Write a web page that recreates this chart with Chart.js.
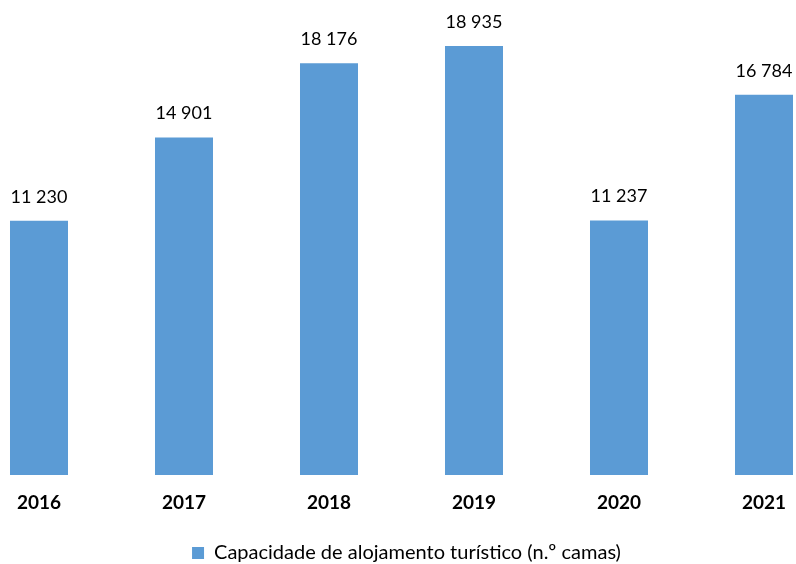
<!DOCTYPE html>
<html>
<head>
<meta charset="utf-8">
<script src="https://cdn.jsdelivr.net/npm/chart.js@4/dist/chart.umd.min.js"></script>
<style>
html,body{margin:0;padding:0;background:#fff;}
#wrap{width:796px;height:564px;position:relative;}
</style>
</head>
<body>
<div id="wrap"><canvas id="c" width="796" height="564"></canvas></div>
<script>
const years = ['2016', '2017', '2018', '2019', '2020', '2021'];
const capacity = [11230, 14901, 18176, 18935, 11237, 16784];
const seriesLabel = 'Capacidade de alojamento turístico (n.º camas)';

const fmt = v => String(v).replace(/\B(?=(\d{3})+(?!\d))/g, ' ');

const valueLabels = {
  id: 'valueLabels',
  afterDatasetsDraw(chart) {
    const ctx = chart.ctx;
    const meta = chart.getDatasetMeta(0);
    ctx.save();
    ctx.font = '18px Lato';
    ctx.fillStyle = '#000';
    ctx.textAlign = 'center';
    ctx.textBaseline = 'alphabetic';
    meta.data.forEach((bar, i) => {
      ctx.fillText(fmt(capacity[i]), bar.x, bar.y - 18);
    });
    ctx.restore();
  }
};

new Chart(document.getElementById('c'), {
  type: 'bar',
  data: {
    datasets: [{
      label: seriesLabel,
      data: capacity.map((v, i) => ({ x: i, y: v })),
      backgroundColor: '#5B9BD5',
      borderWidth: 0,
      categoryPercentage: 0.4,
      barPercentage: 1.0,
      clip: false
    }]
  },
  options: {
    responsive: false,
    animation: false,
    layout: { padding: { left: 17, right: 0, top: 22, bottom: -9 } },
    plugins: {
      legend: {
        position: 'bottom',
        labels: { boxWidth: 12, boxHeight: 12, padding: 0, color: '#000', font: { family: 'Lato', size: 20 } }
      },
      tooltip: { enabled: false }
    },
    scales: {
      x: {
        type: 'linear', offset: false, bounds: 'data',
        min: -0.1517, max: 5.2207,
        grid: { display: false, drawTicks: false },
        border: { display: false },
        afterBuildTicks: s => { s.ticks = years.map((_, i) => ({ value: i })); },
        afterFit: s => { s.paddingLeft = 0; s.paddingRight = 0; s.height = 68; },
        ticks: { autoSkip: false, maxRotation: 0, padding: 16, color: '#000', font: { family: 'Lato', size: 19, weight: 'bold' }, callback: v => years[v] }
      },
      y: { display: false, min: 0, max: 20000 }
    }
  },
  plugins: [valueLabels]
});
</script>
</body>
</html>
